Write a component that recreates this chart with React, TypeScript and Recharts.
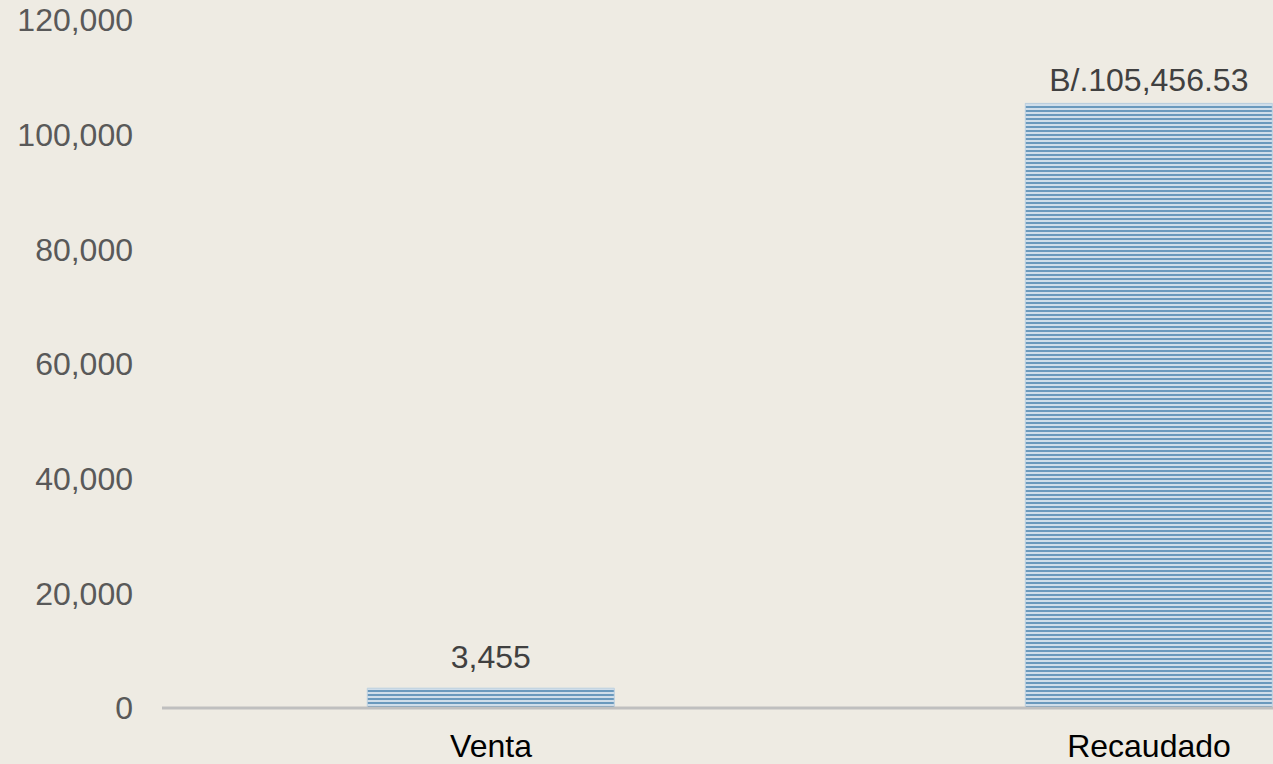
import React from "react";
import { BarChart, Bar, XAxis, YAxis, LabelList } from "recharts";

const categories = ["Venta", "Recaudado"];
const values = [3455, 105456.53];
const yTicks = [0, 20000, 40000, 60000, 80000, 100000, 120000];
const labelPrefixes = ["", "B/."];
const labelDecimals = [0, 2];

const fmt = (v: number, d: number) =>
  v.toLocaleString("en-US", { minimumFractionDigits: d, maximumFractionDigits: d });

const data = categories.map((c, i) => ({
  name: c,
  value: values[i],
  label: labelPrefixes[i] + fmt(values[i], labelDecimals[i]),
}));

const FONT = "'Liberation Sans', Arial, sans-serif";

const renderLabel = (props: any) => {
  const { x, y, width, index } = props;
  const offsets = [20, 12];
  return (
    <text
      x={x + width / 2}
      y={y - offsets[index]}
      textAnchor="middle"
      fill="#404040"
      fontSize={32}
      fontFamily={FONT}
    >
      {data[index].label}
    </text>
  );
};

export default function App() {
  return (
    <div
      style={{
        position: "fixed",
        top: 0,
        left: 0,
        width: 1273,
        height: 764,
        overflow: "hidden",
        background: "#EEEBE3",
      }}
    >
      <BarChart
        width={1478}
        height={764}
        data={data}
        margin={{ top: 20, right: 0, bottom: 6, left: 0 }}
        barCategoryGap="31.2%"
      >
        <defs>
          <pattern id="stripes" patternUnits="userSpaceOnUse" width="8" height="4">
            <rect x="0" y="0" width="8" height="4" fill="#D0DEEA" />
            <rect x="0" y="2" width="8" height="2" fill="#6A99BD" />
          </pattern>
        </defs>
        <XAxis
          dataKey="name"
          height={50}
          tickLine={false}
          axisLine={{ stroke: "#BFBFBF", strokeWidth: 3 }}
          tick={{ fill: "#000000", fontSize: 32, fontFamily: FONT }}
          tickMargin={20}
        />
        <YAxis
          width={162}
          domain={[0, 120000]}
          ticks={yTicks}
          interval={0}
          axisLine={false}
          tickLine={false}
          tickMargin={23}
          tickFormatter={(v: number) => fmt(v, 0)}
          tick={{ fill: "#595959", fontSize: 32, fontFamily: FONT }}
        />
        <Bar
          dataKey="value"
          fill="url(#stripes)"
          stroke="#BCD0E0"
          strokeWidth={1}
          isAnimationActive={false}
        >
          <LabelList dataKey="label" content={renderLabel} />
        </Bar>
      </BarChart>
    </div>
  );
}
